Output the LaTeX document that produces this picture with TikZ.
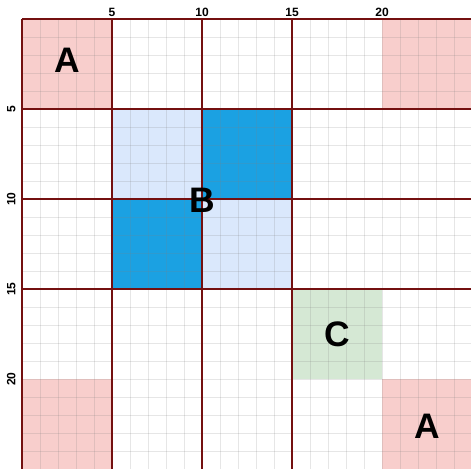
\documentclass[tikz,border=0pt]{standalone}
\usepackage{fontspec}
\setmainfont{Liberation Sans}
\definecolor{pinkA}{HTML}{F8CECC}
\definecolor{blueL}{HTML}{DAE8FC}
\definecolor{blueD}{HTML}{1BA1E2}
\definecolor{greenC}{HTML}{D5E8D4}
\definecolor{darkred}{HTML}{741010}
\tikzset{
  gridline/.style={draw=gray, draw opacity=0.2, line width=0.65pt},
  majorline/.style={draw=darkred, line width=1.6pt},
  bigletter/.style={font=\bfseries\fontsize{28}{28}\selectfont, inner sep=0pt},
  axislabel/.style={font=\bfseries\fontsize{9.5}{10}\selectfont, inner sep=0pt},
}
\begin{document}
\begin{tikzpicture}[x=0.5cm,y=-0.5cm]
\useasboundingbox (-1.2222,-1.0556) rectangle (24.944,24.944);
\clip (-1.2222,-1.0556) rectangle (24.944,24.944);
% fills
\fill[pinkA] (0,0) rectangle (5,5);
\fill[pinkA] (20,0) rectangle (25,5);
\fill[pinkA] (0,20) rectangle (5,25);
\fill[pinkA] (20,20) rectangle (25,25);
\fill[blueL] (5,5) rectangle (10,10);
\fill[blueL] (10,10) rectangle (15,15);
\fill[blueD] (10,5) rectangle (15,10);
\fill[blueD] (5,10) rectangle (10,15);
\fill[greenC] (15,15) rectangle (20,20);
% fine grid
\foreach \i in {1,...,25} {
  \draw[gridline] (\i,0) -- (\i,25);
  \draw[gridline] (0,\i) -- (25,\i);
}
% major lines
\foreach \i in {0,5,10,15} {
  \draw[majorline] (\i,0) -- (\i,25);
  \draw[majorline] (0,\i) -- (25,\i);
}
% axis labels
\node[axislabel] (t5) at (5,-0.38) {5};
\node[axislabel] (t10) at (10,-0.38) {10};
\node[axislabel] (t15) at (15,-0.38) {15};
\node[axislabel] (t20) at (20,-0.38) {20};
\node[axislabel,rotate=90] (l5) at (-0.6,5) {5};
\node[axislabel,rotate=90] (l10) at (-0.6,10) {10};
\node[axislabel,rotate=90] (l15) at (-0.6,15) {15};
\node[axislabel,rotate=90] (l20) at (-0.6,20) {20};
% letters
\node[bigletter] (A1) at (2.5,2.3) {A};
\node[bigletter] (B) at (10.0,10.05) {B};
\node[bigletter] (C) at (17.5,17.5) {C};
\node[bigletter] (A2) at (22.5,22.6) {A};
\end{tikzpicture}
\end{document}
